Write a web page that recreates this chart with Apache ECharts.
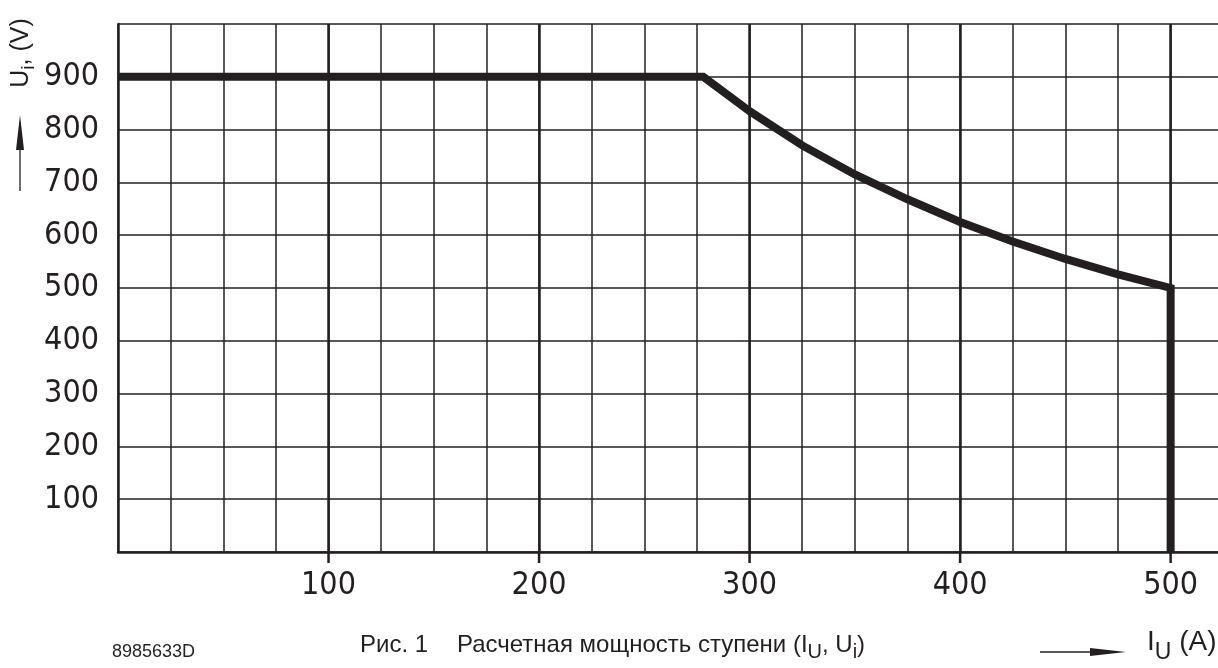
<!DOCTYPE html>
<html>
<head>
<meta charset="utf-8">
<script src="https://cdn.jsdelivr.net/npm/echarts@6/dist/echarts.min.js"></script>
<style>
html,body{margin:0;padding:0;background:#fff;}
#c{width:1218px;height:668px;}
</style>
</head>
<body>
<div id="c"></div>
<script>
// Data
var currentA = [0, 278, 300, 325, 350, 375, 400, 425, 450, 475, 500, 500];
var voltageV = [900, 900, 835, 770, 715, 668, 625, 588, 555, 526, 500, 0];
var xTickLabels = [100, 200, 300, 400, 500];
var yTickLabels = [100, 200, 300, 400, 500, 600, 700, 800, 900];

var ink = '#231f20';
var numFont = "'Liberation Sans Narrow', 'DejaVu Sans Condensed', sans-serif";
var textFont = "'Liberation Sans', Arial, sans-serif";

// layout
var plotLeft = 118, plotWidth = 1100, plotTop = 24, plotHeight = 528;
var xMax = 522.5;
var pxPerUnit = plotWidth / xMax;
var majorMin = xTickLabels[0], majorMax = xTickLabels[xTickLabels.length - 1];

var chart = echarts.init(document.getElementById('c'), null, {renderer: 'canvas'});

var lineData = currentA.map(function (x, i) { return [x, voltageV[i]]; });

chart.setOption({
  animation: false,
  backgroundColor: '#ffffff',
  grid: [
    {left: plotLeft, top: plotTop, width: plotWidth, height: plotHeight, containLabel: false},
    {left: plotLeft + majorMin * pxPerUnit, top: plotTop,
     width: (majorMax - majorMin) * pxPerUnit, height: plotHeight, containLabel: false}
  ],
  xAxis: [
    {
      gridIndex: 0, type: 'value', min: 0, max: xMax, interval: 25,
      axisLine: {show: true, lineStyle: {color: ink, width: 2.5}},
      axisTick: {show: false},
      axisLabel: {show: false},
      splitLine: {show: true, showMaxLine: false, lineStyle: {color: ink, width: 1.5}}
    },
    {
      gridIndex: 1, type: 'value', min: majorMin, max: majorMax, interval: 100, position: 'bottom',
      axisLine: {show: false},
      axisTick: {show: false},
      axisLabel: {
        show: true, margin: 18, color: ink, fontFamily: numFont, fontSize: 32,
        formatter: function (v) { return xTickLabels.indexOf(v) >= 0 ? String(v) : ''; }
      },
      splitLine: {show: true, lineStyle: {color: ink, width: 2.5}},
      z: 3
    }
  ],
  yAxis: [
    {
      gridIndex: 0, type: 'value', min: 0, max: 1000, interval: 100,
      axisLine: {show: true, lineStyle: {color: ink, width: 2.5}},
      axisTick: {show: false},
      axisLabel: {
        show: true, margin: 19, color: ink, fontFamily: numFont, fontSize: 32,
        formatter: function (v) { return yTickLabels.indexOf(v) >= 0 ? String(v) : ''; }
      },
      splitLine: {show: true, lineStyle: {color: ink, width: 1.5}}
    },
    {
      gridIndex: 1, type: 'value', min: 0, max: 1000, interval: 100,
      show: false, splitLine: {show: false}
    }
  ],
  series: [{
    type: 'line',
    xAxisIndex: 0,
    yAxisIndex: 0,
    data: lineData,
    showSymbol: false,
    symbol: 'none',
    smooth: false,
    lineStyle: {color: ink, width: 8, join: 'miter', cap: 'butt'},
    z: 5
  }]
});

var baseGraphics = [
  // y-axis title
  {
    type: 'text', x: 21, y: 53, rotation: Math.PI / 2, z: 10,
    style: {
      text: '{m|U}{s|i}{m|, (V)}',
      align: 'center', verticalAlign: 'middle',
      rich: {
        m: {fontFamily: textFont, fontSize: 25, fill: ink},
        s: {fontFamily: textFont, fontSize: 19, fill: ink, padding: [16, 0, 0, 0]}
      }
    }
  },
  // y arrow
  {type: 'line', shape: {x1: 20, y1: 145, x2: 20, y2: 191}, style: {stroke: ink, lineWidth: 1.3}},
  {type: 'polygon', shape: {points: [[20, 115], [16, 150], [24, 150]]}, style: {fill: ink}},
  // x arrow
  {type: 'line', shape: {x1: 1040, y1: 652, x2: 1095, y2: 652}, style: {stroke: ink, lineWidth: 1.3}},
  {type: 'polygon', shape: {points: [[1126, 652], [1090, 648], [1090, 656]]}, style: {fill: ink}},
  // x-axis title
  {
    type: 'text', x: 1147, y: 642, z: 10,
    style: {
      text: '{m|I}{s|U}{m| (A)}',
      align: 'left', verticalAlign: 'middle',
      rich: {
        m: {fontFamily: textFont, fontSize: 28, fill: ink},
        s: {fontFamily: textFont, fontSize: 23, fill: ink, padding: [22, 0, 0, 0]}
      }
    }
  },
  // caption
  {
    type: 'text', x: 360, y: 645, z: 10,
    style: {
      text: 'Рис. 1', align: 'left', verticalAlign: 'middle',
      fontFamily: textFont, fontSize: 24, fill: ink
    }
  },
  {
    type: 'text', x: 457, y: 645, z: 10,
    style: {
      text: '{m|Расчетная мощность ступени (I}{s|U}{m|, U}{s|i}{m|)}',
      align: 'left', verticalAlign: 'middle',
      rich: {
        m: {fontFamily: textFont, fontSize: 24, fill: ink},
        s: {fontFamily: textFont, fontSize: 20, fill: ink, padding: [15, 0, 0, 0]}
      }
    }
  },
  // figure id
  {
    type: 'text', x: 112, y: 652, z: 10,
    style: {
      text: '8985633D', align: 'left', verticalAlign: 'middle',
      fontFamily: textFont, fontSize: 18, fill: ink
    }
  }
];

// tick marks below the x axis at the labelled values, placed through the axis scale
var tickGraphics = xTickLabels.map(function (v) {
  var p = chart.convertToPixel({gridIndex: 0}, [v, 0]);
  return {
    type: 'line', z: 10,
    shape: {x1: p[0], y1: p[1], x2: p[0], y2: p[1] + 11},
    style: {stroke: ink, lineWidth: 2.5}
  };
});

chart.setOption({graphic: baseGraphics.concat(tickGraphics)});
</script>
</body>
</html>
